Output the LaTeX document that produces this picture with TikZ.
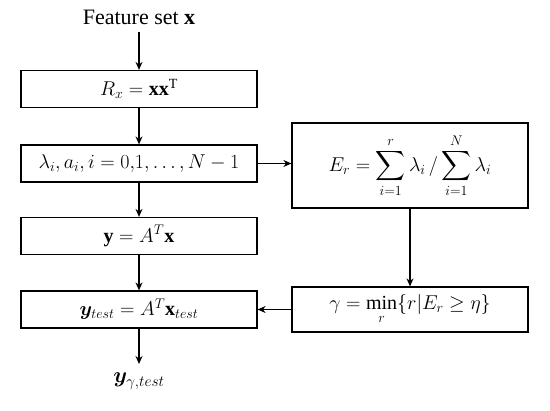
\RequirePackage{fix-cm}
\documentclass[tikz,border=0pt]{standalone}
\usepackage{amsmath,bm}
\usepackage{fontspec}
\setmainfont{Liberation Serif}
\usetikzlibrary{arrows.meta}
\begin{document}
\begin{tikzpicture}[x=1pt,y=-1pt,
  box/.style={draw,line width=1.2pt,minimum width=236pt,minimum height=37pt,inner sep=0pt,font=\fontsize{20}{24}\selectfont},
  rbox/.style={draw,line width=1.2pt,minimum width=236pt,inner sep=0pt,font=\fontsize{20}{24}\selectfont},
  arr/.style={line width=1.3pt,-{Stealth[length=8pt,width=7pt]}},
  txt/.style={font=\fontsize{22}{26}\selectfont,inner sep=0pt}]
\useasboundingbox (0,0) rectangle (550,411);
\node[txt] (in) at (139,17) {Feature set $\mathbf{x}$};
\node[box] (b1) at (139,89) {$R_x = \mathbf{x}\mathbf{x}^{\mathrm{T}}$};
\node[box] (b2) at (139,163.5) {$\lambda_i, a_i, i = 0{,}1, \dots, N-1$};
\node[box] (b3) at (139,236) {$\mathbf{y} = A^T\mathbf{x}$};
\node[box] (b4) at (139,309.5) {$\bm{y}_{test} = A^T\mathbf{x}_{test}$};
\node[txt] (out) at (139,381) {$\bm{y}_{\gamma,test}$};
\node[rbox,minimum height=85pt] (e) at (410,165.5) {$\displaystyle E_r = \sum_{i=1}^{r}\lambda_i \,/ \sum_{i=1}^{N}\lambda_i$};
\node[rbox,minimum height=45pt] (g) at (410,309.5) {$\gamma = \min\limits_{r}\{r|E_r \geq \eta\}$};
\draw[arr] (in.south |- 0,32) -- (b1.north);
\draw[arr] (b1) -- (b2);
\draw[arr] (b2) -- (b3);
\draw[arr] (b3) -- (b4);
\draw[arr] (b4.south) -- (139,364);
\draw[arr] (b2.east) -- (b2.east -| e.west);
\draw[arr] (e) -- (g);
\draw[arr] (g.west) -- (g.west -| b4.east);
\end{tikzpicture}
\end{document}
